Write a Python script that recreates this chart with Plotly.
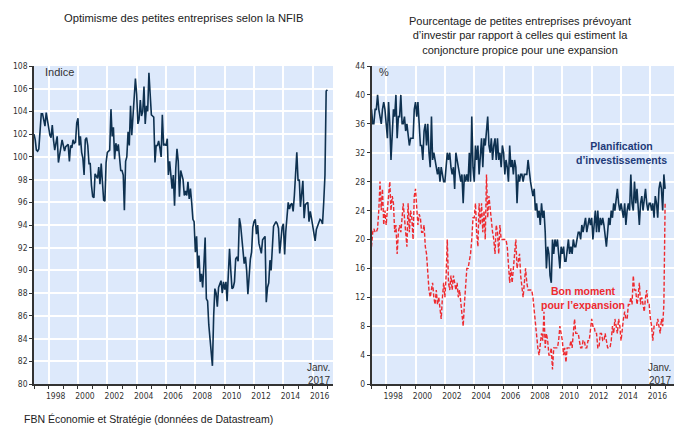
import pandas as pd
import plotly.graph_objects as go

# Monthly data, Jan 1997 - Jan 2017 (one row per year)
nfib_index = [
    102.0, 101.5, 100.6, 100.5, 100.7, 102.5, 103.8, 103.8, 103.2, 102.7, 103.9, 103.2,
    102.2, 101.9, 101.7, 102.8, 101.5, 100.6, 101.2, 101.8, 99.5, 100.2, 100.8, 101.5,
    101.0, 100.5, 100.9, 101.0, 101.1, 99.6, 101.0, 100.8, 101.5, 101.2, 101.3, 103.0,
    103.4, 101.0, 101.8, 100.4, 99.9, 98.4, 101.5, 101.7, 101.0, 99.4, 99.4, 97.5,
    96.5, 96.4, 98.5, 98.3, 98.1, 99.1, 97.6, 99.4, 97.8, 96.2, 96.1, 99.5,
    100.4, 100.5, 100.6, 104.2, 101.8, 102.6, 99.8, 101.2, 100.5, 101.1, 100.0, 98.8,
    98.8, 98.4, 95.3, 99.6, 100.0, 102.2, 101.0, 104.5, 101.9, 103.5, 105.0, 106.9,
    105.5, 102.9, 103.3, 105.0, 103.6, 104.0, 106.2, 102.9, 104.5, 104.0, 107.4, 105.0,
    103.7, 103.6, 103.5, 99.5, 101.0, 101.0, 101.4, 100.8, 100.0, 103.7, 101.0, 101.1,
    101.0, 101.6, 98.4, 99.6, 98.5, 97.2, 98.4, 95.7, 99.0, 100.7, 99.6, 96.5,
    98.8, 98.4, 98.0, 96.6, 97.0, 96.6, 97.8, 96.3, 97.2, 96.0, 94.5, 94.3,
    91.6, 93.0, 90.2, 91.3, 89.0, 89.7, 88.5, 90.5, 92.9, 87.5, 87.3, 85.2,
    84.1, 82.6, 81.6, 86.0, 88.4, 88.0, 86.8, 88.5, 88.9, 89.1, 88.0, 89.0,
    88.3, 89.0, 87.3, 89.5, 91.9, 90.0, 88.4, 88.5, 89.0, 91.0, 91.2, 90.8,
    94.6, 94.0, 92.8, 91.5, 90.6, 91.2, 90.0, 87.9, 89.5, 91.0, 91.6, 93.8,
    94.3, 94.5, 93.2, 94.0, 92.4, 92.0, 91.5, 92.7, 92.9, 93.0, 87.2, 88.5,
    88.9, 90.9, 90.0, 92.0, 93.9, 94.1, 94.3, 94.1, 93.7, 91.5, 92.9, 93.8,
    94.1, 91.4, 93.4, 95.2, 96.0, 95.4, 95.8, 95.9, 95.2, 96.6, 98.1, 100.4,
    97.9, 98.0, 95.6, 96.9, 97.9, 94.6, 95.8, 95.9, 96.0, 94.3, 95.2, 94.6,
    93.9, 92.9, 92.6, 93.6, 93.9, 94.2, 94.5, 94.4, 94.1, 96.0, 98.4, 105.8,
    105.9,
]

plan_invest = [
    38, 36, 36, 38, 38, 40, 38, 37, 36, 38, 39, 38,
    36, 34, 39, 36, 31, 35, 38, 37, 40, 34, 37, 37,
    40, 36, 36, 37, 35, 36, 34, 33, 34, 34, 34, 38,
    39, 37, 39, 36, 33, 33, 31, 35, 36, 33, 36, 32,
    30, 37, 31, 32, 31, 30, 29, 30, 28, 30, 29, 28,
    28, 31, 32, 31, 32, 30, 29, 30, 27, 32, 31, 30,
    29, 28, 29, 25, 29, 28, 29, 28, 32, 28, 37, 30,
    28, 33, 31, 33, 29, 31, 34, 30, 34, 33, 35, 37,
    33, 32, 34, 31, 33, 34, 31, 34, 31, 32, 30, 33,
    32, 29, 31, 30, 28, 33, 30, 31, 29, 31, 30, 25,
    29, 28, 29, 29, 28, 29, 29, 29, 31, 29, 28, 27,
    26, 27, 24, 25, 23, 24, 22, 25, 23, 24, 21, 16,
    19, 18, 15, 14, 20, 18, 20, 19, 20, 18, 16, 19,
    18, 19, 17, 17, 19, 20, 18, 19, 18, 20, 19, 19,
    20, 21, 21, 20, 22, 21, 22, 23, 21, 22, 23, 22,
    23, 20, 22, 24, 21, 24, 21, 23, 22, 23, 22, 20,
    19, 21, 23, 22, 24, 23, 25, 24, 26, 27, 25, 24,
    25, 24, 23, 25, 22, 24, 25, 24, 29, 25, 24, 28,
    25, 27, 25, 22, 25, 26, 24, 26, 27, 25, 24, 25,
    25, 24, 25, 23, 26, 25, 23, 27, 28, 27, 24, 29,
    27,
]

good_time = [
    19, 21, 21.5, 21, 21, 21.5, 24, 28, 24, 27, 22, 24,
    22, 25, 26, 28, 24, 26, 25, 21, 22, 18, 21, 22,
    21, 23, 25, 23, 21, 19, 25, 21, 24, 23, 20, 26,
    27, 25, 22, 23.5, 23, 21, 21, 22, 19, 18, 15, 13,
    12, 13, 14, 12, 11, 13, 11, 12, 10, 9, 12, 14,
    12, 15, 20, 14, 13, 15, 13, 15, 14, 13, 14, 12,
    13, 11, 10, 8, 11, 14, 16, 16, 17, 18, 20, 23,
    23, 25, 21, 19, 25, 22, 25, 21, 24, 20, 29, 23,
    26, 24, 23, 21, 20, 18, 22, 21, 18, 22, 20, 20,
    20, 20, 20, 19, 17, 14, 16, 14, 16, 18, 20, 16,
    17, 18, 15, 13, 12, 14, 16, 14, 13, 13, 13, 13,
    12, 10, 8, 6, 5, 4, 6, 7, 6, 10, 5, 7,
    6, 4, 4, 5, 2, 5, 5, 5, 5, 6, 8, 7,
    6, 4, 5, 3, 5, 5, 5, 6, 5, 7, 9, 7,
    7, 7, 6, 5, 5, 6, 6, 5, 5, 6, 6, 8,
    9, 8, 8, 7, 7, 5, 5, 7, 7, 6, 6, 7,
    6, 5, 5, 5, 6, 8, 7, 9, 8, 7, 9, 8,
    6, 8, 9, 10, 9, 9, 11, 11, 12, 11, 15, 13,
    13, 11, 12, 14, 11, 12, 11, 10, 12, 13, 11, 11,
    9, 8, 6, 8, 8, 8, 9, 8, 7, 9, 8, 11,
    25,
]

dates = pd.date_range('1997-01-01', periods=len(nfib_index), freq='MS')
label_years = list(range(1998, 2017, 2))

NAVY = '#0e3150'
RED = '#ee2a2f'
BG = '#dde9fb'
TICKFONT = dict(family='Liberation Sans Narrow, DejaVu Sans Condensed, Liberation Sans', size=8.5, color='#333')
W, H = 680, 425

fig = go.Figure()
fig.add_trace(go.Scatter(x=dates, y=nfib_index, mode='lines', line=dict(color=NAVY, width=1.6),
                         xaxis='x', yaxis='y', showlegend=False))
fig.add_trace(go.Scatter(x=dates, y=good_time, mode='lines', line=dict(color=RED, width=1.4, dash='4px,2px'),
                         xaxis='x2', yaxis='y2', showlegend=False))
fig.add_trace(go.Scatter(x=dates, y=plan_invest, mode='lines', line=dict(color=NAVY, width=1.6),
                         xaxis='x2', yaxis='y2', showlegend=False))


def xaxis_style(domain, end):
    return dict(
        domain=domain, type='date', range=['1997-01-01', end],
        tickmode='array', tickvals=[f'{y}-01-01' for y in label_years],
        ticktext=[str(y) for y in label_years], ticklabelshift=7, ticklabelstandoff=0,
        ticks='outside', ticklen=3, tickcolor='#333', tickfont=TICKFONT,
        showgrid=True, gridcolor='white', gridwidth=1.5,
        showline=True, linecolor='#333', linewidth=1.5, zeroline=False,
        minor=dict(ticks='outside', ticklen=3, tickcolor='#333', tick0='1997-01-01', dtick='M12', showgrid=False),
    )


def yaxis_style(rng, dtick, anchor):
    return dict(
        domain=[1 - 384 / H, 1 - 66 / H], range=rng, dtick=dtick, anchor=anchor,
        ticks='outside', ticklen=3, tickcolor='#333', tickfont=TICKFONT,
        showgrid=True, gridcolor='white', gridwidth=1.5,
        showline=True, linecolor='#333', linewidth=1.5, zeroline=False,
    )


fig.update_layout(
    width=W, height=H, margin=dict(l=0, r=0, t=0, b=0, autoexpand=False),
    paper_bgcolor='white', plot_bgcolor=BG,
    font=dict(family='Liberation Sans, Arial, sans-serif', color='#222'),
    xaxis=dict(xaxis_style([34 / W, 333 / W], '2017-05-20'), anchor='y'),
    yaxis=yaxis_style([80, 108], 2, 'x'),
    xaxis2=dict(xaxis_style([371.5 / W, 674 / W], '2017-08-10'), anchor='y2'),
    yaxis2=yaxis_style([0, 44], 4, 'x2'),
)


def note(text, x, y, size=11, color='#333', xanchor='center', align='center'):
    fig.add_annotation(text=text, x=x / W, y=1 - y / H, xref='paper', yref='paper', xanchor=xanchor,
                       yanchor='middle', align=align, showarrow=False, font=dict(size=size, color=color))


note('Optimisme des petites entreprises selon la NFIB', 183, 18, size=11.2, color='#222')
note('Pourcentage de petites entreprises prévoyant<br>d’investir par rapport à celles qui estiment la<br>'
     'conjoncture propice pour une expansion', 520, 35, size=11, color='#222')
note('Indice', 43, 72, xanchor='left')
note('%', 377, 72, xanchor='left')
for xr in (333, 674):
    note('Janv.<br>2017', xr, 374, size=10, xanchor='right', align='right')
note('<b>Planification<br>d’investissements</b>', 621, 153, size=10.5, color='#1d3a78')
note('<b>Bon moment<br>pour l’expansion</b>', 583, 298, size=10.5, color=RED)
note('FBN Économie et Stratégie (données de Datastream)', 22, 419, size=10.5, color='#222', xanchor='left')

fig.write_html('out.html', config={'displayModeBar': False},
               post_script="document.body.style.margin='0';")
